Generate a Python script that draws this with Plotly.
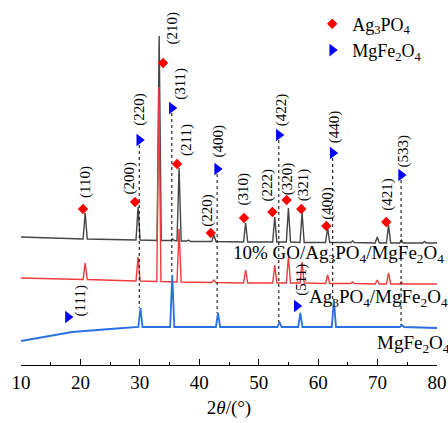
import plotly.graph_objects as go

# ---------------- data (2θ in degrees, intensity in a.u.) ----------------
go_comp_x = [10, 20.45, 20.8, 21.15, 29.35, 29.7, 30.05, 32.9, 33.25, 33.6, 35.2, 35.5, 35.8,
             36.25, 36.6, 36.95, 37.9, 38.2, 38.5, 42.1, 42.45, 42.8, 47.45, 47.8, 48.15,
             52.35, 52.7, 53.05, 54.65, 55.0, 55.35, 56.95, 57.3, 57.65, 61.25, 61.6, 61.95,
             65.5, 65.8, 66.1, 69.6, 69.95, 70.3, 71.5, 71.85, 72.2, 73.7, 74.0, 74.3,
             77.6, 77.9, 78.2, 80]
go_comp_y = [128, 126, 152, 126, 125, 158, 125, 124.5, 329, 124.5, 124.5, 126, 124.5,
             124, 197, 124, 124, 125, 123.5, 123.5, 130, 123.5, 123, 142, 123,
             123, 148, 123, 123, 157, 123, 122.5, 152, 122.5, 122.5, 137, 122.5,
             122.5, 124, 122.5, 122, 128, 122, 122, 140, 122, 122, 125, 122,
             122, 123.5, 122, 122]

ag_mg_x = [10, 20.45, 20.8, 21.15, 29.35, 29.7, 30.05, 32.85, 33.2, 33.55,
           36.25, 36.6, 36.95, 42.1, 42.45, 42.8, 47.45, 47.8, 48.15, 52.35, 52.7, 53.05,
           54.65, 55.0, 55.35, 56.95, 57.3, 57.65, 61.25, 61.6, 61.95, 65.5, 65.8, 66.1,
           69.6, 69.95, 70.3, 71.5, 71.85, 72.2, 73.7, 74.0, 74.3, 80]
ag_mg_y = [87, 85.5, 102, 85.5, 84, 108, 84, 83.5, 278, 83.5,
           83, 136, 83, 82.5, 85, 82.5, 82, 95, 82, 82, 100, 82,
           82, 108, 82, 82, 103, 82, 81.5, 90, 81.5, 81.5, 83, 81.5,
           81, 85, 81, 81, 92, 81, 81, 83, 81, 81]

mgfe_x = [10, 14, 18.6, 25, 29.75, 30.1, 30.45, 35.1, 35.45, 35.8, 42.8, 43.15, 43.5,
          53.15, 53.5, 53.85, 56.65, 57.0, 57.35, 62.3, 62.65, 63.0, 73.75, 74.1, 74.45, 80]
mgfe_y = [24, 28, 33, 36, 38, 57, 38, 38, 90, 38, 38, 52, 38,
          38, 43, 38, 38, 52, 38, 38, 65, 38, 38, 40, 38, 37]

# reflections: Ag3PO4 (diamonds)
ag_hkl = ["(110)", "(200)", "(210)", "(211)", "(220)", "(310)", "(222)", "(320)", "(321)", "(400)", "(421)"]
ag_pos = [20.44, 29.19, 33.9, 36.26, 41.93, 47.53, 52.3, 54.7, 57.17, 61.38, 71.46]
ag_int = [156, 163, 302, 201, 132, 147, 153, 165, 156, 139, 143]

# reflections: MgFe2O4 (triangles)
mg_hkl = ["(111)", "(220)", "(311)", "(400)", "(422)", "(511)", "(440)", "(533)"]
mg_pos = [17.9, 29.9, 35.38, 43.0, 53.38, 56.4, 62.45, 73.95]
mg_int = [48, 225, 257, 196, 230, 59, 212, 190]
mg_line_end = [None, 57, 90, 52, 43, None, 65, 40]

sample_names = ["10% GO/Ag<sub>3</sub>PO<sub>4</sub>/MgFe<sub>2</sub>O<sub>4</sub>",
                "Ag<sub>3</sub>PO<sub>4</sub>/MgFe<sub>2</sub>O<sub>4</sub>",
                "MgFe<sub>2</sub>O<sub>4</sub>"]

# ---------------- layout helpers (pixel offsets of hkl labels) ----------------
ag_lbl_off = [(2, 9), (-6, 5), (9, 16), (9, 6), (-3.5, 4), (-1, 10), (-4.5, 9), (1, 3), (2.5, 6), (1, 4), (1, 9)]
mg_lbl_off = [(13, -1), (0, 12), (8, 6), (1, 9), (3, 7), (4, 8), (2, 8), (2, 5)]

FONT = "Liberation Serif"

fig = go.Figure()
fig.add_trace(go.Scatter(x=go_comp_x, y=go_comp_y, mode="lines",
                         line=dict(color="#454545", width=1.4), showlegend=False, hoverinfo="skip"))
fig.add_trace(go.Scatter(x=ag_mg_x, y=ag_mg_y, mode="lines",
                         line=dict(color="#ee3b3b", width=1.4), showlegend=False, hoverinfo="skip"))
fig.add_trace(go.Scatter(x=mgfe_x, y=mgfe_y, mode="lines",
                         line=dict(color="#2a6fe0", width=1.8), showlegend=False, hoverinfo="skip"))

# dotted guide lines from MgFe2O4 markers to the MgFe2O4 peaks
for p, top, end in zip(mg_pos, mg_int, mg_line_end):
    if end is None:
        continue
    fig.add_trace(go.Scatter(x=[p, p], y=[top - 5, end], mode="lines",
                             line=dict(color="black", width=1, dash="dot"),
                             showlegend=False, hoverinfo="skip"))

fig.add_trace(go.Scatter(x=ag_pos, y=ag_int, mode="markers", name="Ag<sub>3</sub>PO<sub>4</sub>",
                         marker=dict(symbol="diamond", size=8, color="#ff0000", line=dict(width=0)),
                         cliponaxis=False))
fig.add_trace(go.Scatter(x=mg_pos, y=mg_int, mode="markers", name="MgFe<sub>2</sub>O<sub>4</sub>",
                         marker=dict(symbol="triangle-right", size=11, color="#0000ff", line=dict(width=0)),
                         cliponaxis=False))

annotations = []
for lbl, p, h, (dx, dy) in zip(ag_hkl, ag_pos, ag_int, ag_lbl_off):
    annotations.append(dict(x=p, y=h, text=lbl, textangle=-90, showarrow=False,
                            xanchor="center", yanchor="bottom", xshift=dx, yshift=dy,
                            font=dict(family=FONT, size=15, color="black")))
for lbl, p, h, (dx, dy) in zip(mg_hkl, mg_pos, mg_int, mg_lbl_off):
    annotations.append(dict(x=p, y=h, text=lbl, textangle=-90, showarrow=False,
                            xanchor="center", yanchor="bottom", xshift=dx, yshift=dy,
                            font=dict(family=FONT, size=15, color="black")))

# sample names
name_pos = [(45.3, 111), (58.1, 67), (69.5, 21)]
for txt, (nx, ny) in zip(sample_names, name_pos):
    annotations.append(dict(x=nx, y=ny, text=txt, showarrow=False, xanchor="left", yanchor="middle",
                            font=dict(family=FONT, size=19, color="black")))

fig.update_layout(
    width=448, height=423,
    margin=dict(l=21, r=11, t=0, b=58),
    paper_bgcolor="white", plot_bgcolor="white",
    annotations=annotations,
    legend=dict(x=0.70, y=0.985, xanchor="left", yanchor="top", bgcolor="rgba(0,0,0,0)",
                font=dict(family=FONT, size=18, color="black"), tracegroupgap=0),
    xaxis=dict(range=[10, 80], showline=True, linecolor="black", linewidth=1,
               ticks="inside", ticklen=6, tickcolor="black", dtick=10, tick0=10,
               minor=dict(ticks="inside", ticklen=3, dtick=5, tickcolor="black"),
               showgrid=False, zeroline=False,
               tickfont=dict(family=FONT, size=19, color="black"),
               title=dict(text="2<i>θ</i>/(°)", font=dict(family=FONT, size=19, color="black"), standoff=8)),
    yaxis=dict(range=[0, 365], visible=False),
)

fig.write_html("out.html")
